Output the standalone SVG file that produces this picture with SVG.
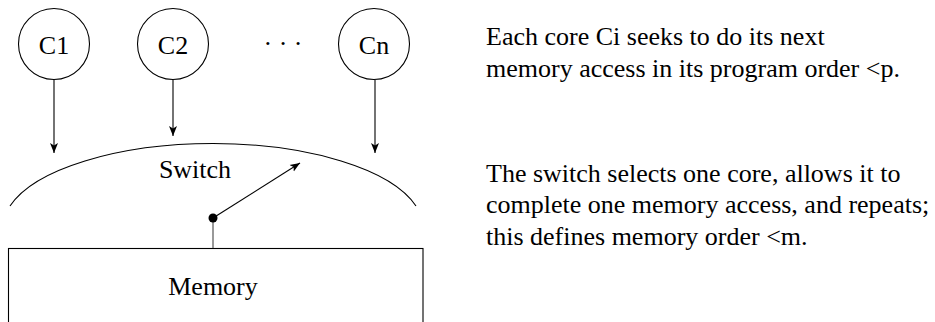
<svg xmlns="http://www.w3.org/2000/svg" width="935" height="322" viewBox="0 0 935 322">
<defs>
<marker id="ah" viewBox="0 0 10 10" refX="10" refY="5" markerWidth="10" markerHeight="10" markerUnits="userSpaceOnUse" orient="auto">
<path d="M0,1 L10,5 L0,9 L2.5,5 Z" fill="#000"/>
</marker>
</defs>
<rect width="935" height="322" fill="#fff"/>
<g font-family="Liberation Serif" font-size="26" fill="#000">
<g fill="none" stroke="#000" stroke-width="1.1">
<g id="c1"><circle cx="54" cy="44" r="35.5"/></g>
</g>
<text text-anchor="middle" x="54" y="54">C1</text>
<g id="c2"><circle fill="none" stroke="#000" stroke-width="1.1" cx="173" cy="44" r="35.5"/><text text-anchor="middle" x="173" y="54">C2</text></g>
<g id="dots"><text text-anchor="middle" x="283" y="52">· · ·</text></g>
<g id="cn"><circle fill="none" stroke="#000" stroke-width="1.1" cx="374" cy="44" r="35.5"/><text text-anchor="middle" x="374" y="54">Cn</text></g>
<g id="switch"><path fill="none" stroke="#000" stroke-width="1.1" d="M10,206 A210,84 0 0 1 416,206"/><text text-anchor="middle" x="195" y="178">Switch</text></g>
<g id="memory"><rect fill="none" stroke="#000" stroke-width="1.1" x="8.5" y="248.5" width="414.5" height="100"/><text text-anchor="middle" x="213" y="295">Memory</text></g>
<g id="connectors" stroke="#000" stroke-width="1.1">
<line x1="54" y1="80" x2="54" y2="153" marker-end="url(#ah)"/>
<line x1="173" y1="80" x2="173" y2="136" marker-end="url(#ah)"/>
<line x1="375" y1="80" x2="375" y2="153" marker-end="url(#ah)"/>
<line x1="213" y1="218" x2="213" y2="248" stroke="#777" stroke-width="1.5"/>
<line x1="213" y1="218" x2="300" y2="163" marker-end="url(#ah)"/>
<circle cx="213" cy="218" r="4.5" fill="#000" stroke="none"/>
</g>
<g id="notes">
<text x="486" y="45">Each core Ci seeks to do its next</text>
<text x="486" y="77">memory access in its program order &lt;p.</text>
<text x="486" y="182">The switch selects one core, allows it to</text>
<text x="486" y="213">complete one memory access, and repeats;</text>
<text x="486" y="245">this defines memory order &lt;m.</text>
</g>
</g>
</svg>
